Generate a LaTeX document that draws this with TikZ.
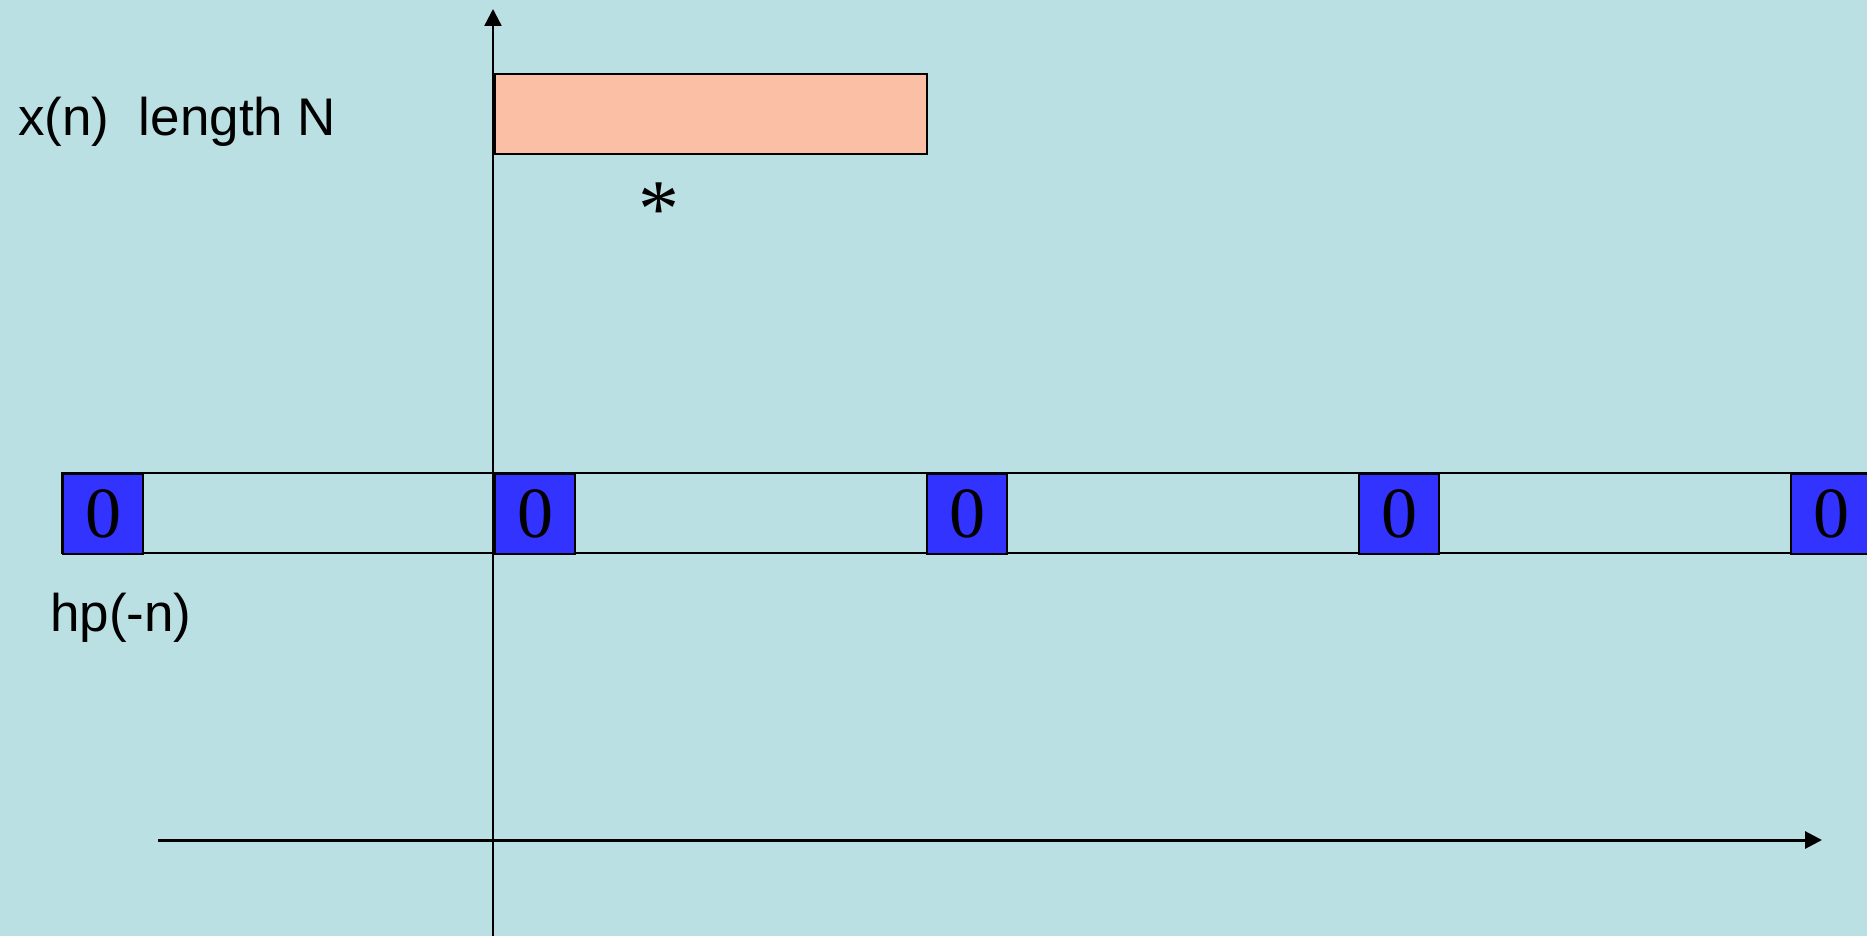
\documentclass[tikz,border=0pt]{standalone}
\usepackage{fontspec}
\setmainfont{Liberation Sans}
\newfontfamily\zerofont{Liberation Serif}
\usetikzlibrary{arrows.meta}
\definecolor{bgcol}{HTML}{BBE0E3}
\definecolor{pinkfill}{HTML}{FBBFA5}
\definecolor{zeroblue}{HTML}{3333FF}

\begin{document}
\begin{tikzpicture}[x=1pt,y=-1pt,
  axisline/.style={line width=2.4pt, -{Triangle[length=17pt,width=17pt]}},
  outline/.style={draw=black, line width=2.2pt},
  zerobox/.style={outline, fill=zeroblue, minimum size=80pt, inner sep=0pt,
    anchor=north west, font=\zerofont\fontsize{72}{72}\selectfont},
  lbl/.style={font=\fontsize{53}{53}\selectfont, anchor=base west, inner sep=0pt},
]
% background and page frame
\fill[bgcol] (0,0) rectangle (1867,936);
\useasboundingbox (0,0) rectangle (1867,936);
\clip (0,0) rectangle (1867,936);

% axes
\coordinate (vbot) at (493,940);
\coordinate (vtop) at (493,9);
\coordinate (hleft) at (158,840);
\coordinate (hright) at (1822,840);
\draw[axisline] (vbot) -- (vtop);
\draw[axisline, line width=3pt] (hleft) -- (hright);

% input sequence x(n)
\node[outline, fill=pinkfill, minimum width=432pt, minimum height=80pt,
  inner sep=0pt, anchor=north west] (xbox) at (494,73) {};
\node[lbl] (xlbl) at (18,136) {x(n)\ \ length N};
\node[inner sep=0pt, font=\zerofont\fontsize{82}{82}\selectfont] (star) at (659,210) {*};

% periodic filter row hp(-n)
\draw[outline] (62,473) rectangle (1920,553);
\foreach \i in {0,...,4}
  \node[zerobox] (z\i) at ({62+432*\i},473) {0};
\node[lbl] (hlbl) at (50,631) {hp(-n)};
\end{tikzpicture}
\end{document}
